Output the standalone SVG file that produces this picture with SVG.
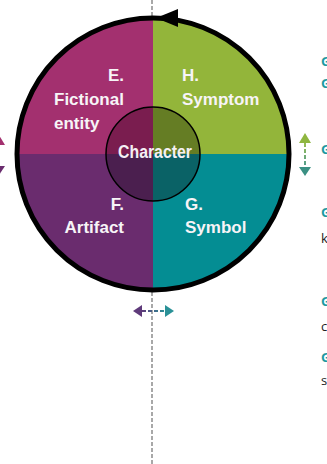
<svg xmlns="http://www.w3.org/2000/svg" width="327" height="464" viewBox="0 0 327 464">
<defs>
<style>
.lbl{font-family:"Liberation Sans",Arial,sans-serif;font-weight:bold;font-size:17px;fill:#f7f4f7}
.side{font-family:"Open Sans","Liberation Sans",sans-serif;font-size:13px}
.tl{fill:#1d9aa2;font-weight:bold}
.bk{fill:#222}
.guide{stroke:#8c8c8c;stroke-width:1.5;stroke-dasharray:4 2;fill:none}
</style>
<linearGradient id="gRight" gradientUnits="userSpaceOnUse" x1="305" y1="143" x2="305" y2="167"><stop offset="0" stop-color="#8fb640"/><stop offset="1" stop-color="#3b9083"/></linearGradient>
<linearGradient id="gBottom" gradientUnits="userSpaceOnUse" x1="142" y1="311" x2="165" y2="311"><stop offset="0" stop-color="#5e3a7a"/><stop offset="1" stop-color="#2a9197"/></linearGradient>
</defs>

<g id="guides">
<line class="guide" x1="152" y1="0" x2="152" y2="20"/>
<line class="guide" x1="152" y1="292" x2="152" y2="464"/>
</g>

<g id="quadrant-E">
<path d="M153,154 L17,154 A136,136 0 0 1 153,18 Z" fill="#a3306f"/>
<text class="lbl" x="124" y="81" text-anchor="end">E.</text>
<text class="lbl" x="54" y="105">Fictional</text>
<text class="lbl" x="54" y="129">entity</text>
</g>
<g id="quadrant-H">
<path d="M153,154 L153,18 A136,136 0 0 1 289,154 Z" fill="#93b53a"/>
<text class="lbl" x="182" y="81">H.</text>
<text class="lbl" x="182" y="105">Symptom</text>
</g>
<g id="quadrant-G">
<path d="M153,154 L289,154 A136,136 0 0 1 153,290 Z" fill="#048d93"/>
<text class="lbl" x="185" y="210">G.</text>
<text class="lbl" x="185" y="233">Symbol</text>
</g>
<g id="quadrant-F">
<path d="M153,154 L153,290 A136,136 0 0 1 17,154 Z" fill="#6a2c6e"/>
<text class="lbl" x="124" y="210" text-anchor="end">F.</text>
<text class="lbl" x="124" y="233" text-anchor="end">Artifact</text>
</g>

<g id="cycle">
<circle cx="153" cy="154" r="136" fill="none" stroke="#000" stroke-width="5"/>
<polygon points="156,18 178,9 178,27" fill="#000"/>
</g>

<g id="character">
<path d="M153,154 L106,154 A47,47 0 0 1 153,107 Z" fill="#7a1d4f"/>
<path d="M153,154 L153,107 A47,47 0 0 1 200,154 Z" fill="#657d24"/>
<path d="M153,154 L200,154 A47,47 0 0 1 153,201 Z" fill="#0a6266"/>
<path d="M153,154 L153,201 A47,47 0 0 1 106,154 Z" fill="#4b1f4f"/>
<circle cx="153" cy="154" r="47" fill="none" stroke="#000" stroke-width="1.5"/>
<text x="155" y="158" text-anchor="middle" textLength="74" lengthAdjust="spacingAndGlyphs" style="font-family:'Liberation Sans',Arial,sans-serif;font-weight:bold;font-size:18px;fill:#f4f0f4">Character</text>
</g>

<g id="connectors">
<g id="arrow-right">
<line x1="305" y1="143" x2="305" y2="167" stroke="url(#gRight)" stroke-width="1.8" stroke-dasharray="4 2"/>
<polygon points="305,133 299,143 311,143" fill="#8fb640"/>
<polygon points="305,176 299,167 311,167" fill="#3b9083"/>
</g>
<g id="arrow-bottom">
<line x1="142" y1="311" x2="165" y2="311" stroke="url(#gBottom)" stroke-width="1.8" stroke-dasharray="4 2"/>
<polygon points="133,311 142,305 142,317" fill="#5e3a7a"/>
<polygon points="174,311 165,305 165,317" fill="#2a9197"/>
</g>
<g id="arrow-left">
<polygon points="-1,135 -7,145 5,145" fill="#a3306f"/>
<polygon points="-1,175 -7,166 5,166" fill="#6a2c6e"/>
</g>
</g>

<g id="side-text" class="side">
<text class="tl" x="321" y="66">G</text>
<text class="tl" x="321" y="88">G</text>
<text class="tl" x="321" y="154">G</text>
<text class="tl" x="321" y="217">G</text>
<text class="bk" x="321" y="243">k</text>
<text class="tl" x="321" y="306">G</text>
<text class="bk" x="321" y="331">c</text>
<text class="tl" x="321" y="362">G</text>
<text class="bk" x="321" y="385">s</text>
</g>
</svg>
